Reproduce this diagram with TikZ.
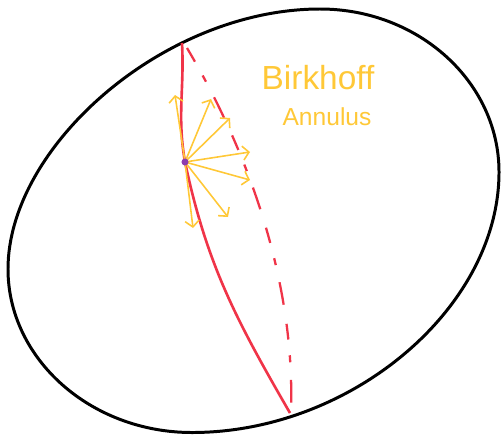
\documentclass[tikz,border=0pt]{standalone}
\usepackage{fontspec}
\setmainfont{Liberation Sans}
\usetikzlibrary{arrows.meta}
\definecolor{fibrered}{RGB}{240,52,72}
\definecolor{penyellow}{RGB}{255,200,55}
\definecolor{dotpurple}{RGB}{140,60,175}
\tikzset{
  % rand van het biljart
  boundary/.style={line width=1.7pt, black},
  % vezel door het basispunt (voor- en achterkant)
  fibre/.style={line width=1.5pt, fibrered},
  fibredash/.style={line width=1.3pt, fibrered,
                    dash pattern=on 9pt off 9pt on 4pt off 10pt on 13pt off 11pt},
  % richtingen in het basispunt
  vec/.style={line width=0.9pt, penyellow, -{Straight Barb[length=3.5pt,width=8pt]}},
  basept/.style={circle, fill=dotpurple, inner sep=0pt, minimum size=4pt},
  annlabel/.style={penyellow, inner sep=0pt},
}

\begin{document}
\begin{tikzpicture}[x=0.02cm, y=0.02cm]
\useasboundingbox (0,0) rectangle (502,434);

% =================== RAND ===================
\draw[boundary] (320,425) .. controls (418.5,425) and (499,352) .. (499,262)
  .. controls (499,126.5) and (351.6,1.5) .. (192,1.5)
  .. controls (90.8,1.5) and (8,75) .. (8,165)
  .. controls (8,287.5) and (164,425) .. cycle;

% =================== VEZEL ===================
\coordinate (base) at (185,272);
\coordinate (redtop) at (182,391);
\coordinate (redbot) at (290,21);
\coordinate (dashtop) at (187,386);
\coordinate (dashbot) at (291,24);

\draw[fibredash] (dashtop) .. controls (250,280) and (295,150) .. (dashbot);
\draw[fibre] (redtop) to[out=-87,in=100] (base) to[out=-78,in=120] (redbot);

% =================== RICHTINGEN ===================
\foreach \x/\y [count=\i] in {175/339, 211/335, 230/316, 250/282, 250/254, 228/217, 193/206}
  \coordinate (v\i) at (\x,\y);
\foreach \i in {1,...,7}
  \draw[vec] (base) -- (v\i);

\node[basept] (pt) at (base) {};

% =================== LABEL ===================
\node[annlabel, font=\fontsize{19}{22}\selectfont] (birk) at (318,356) {Birkhoff};
\node[annlabel, font=\fontsize{14}{17}\selectfont] (annu) at (327,317) {Annulus};

\end{tikzpicture}
\end{document}
